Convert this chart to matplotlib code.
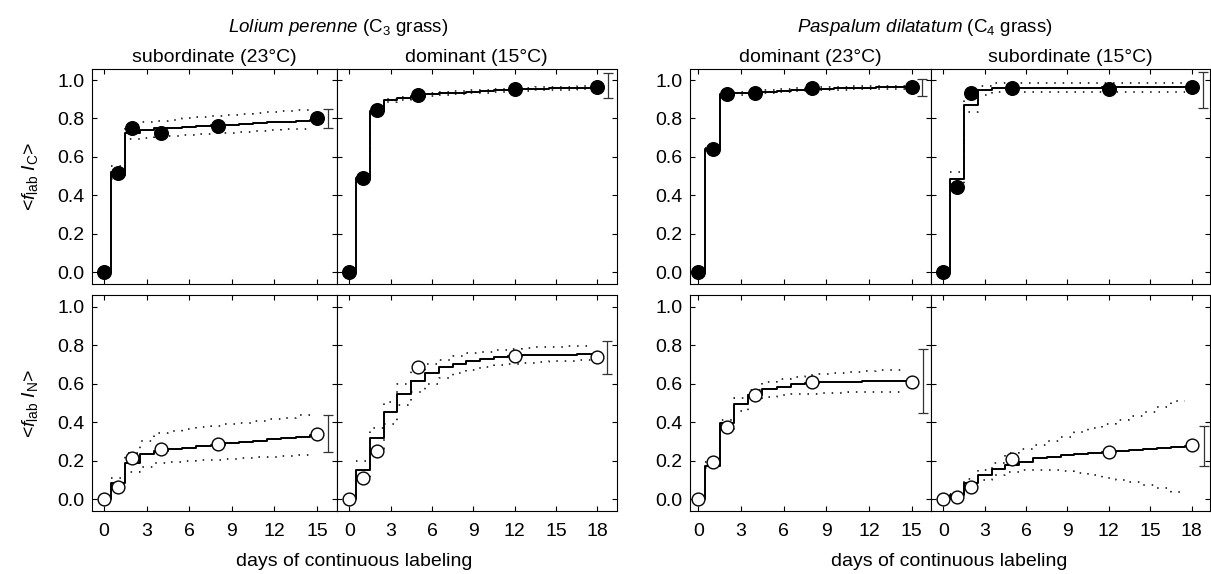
import numpy as np
import matplotlib
matplotlib.use("Agg")
import matplotlib.pyplot as plt

plt.rcParams.update({
    "font.family": ["Liberation Sans", "DejaVu Sans"], "font.size": 14,
    "mathtext.fontset": "custom", "mathtext.rm": "Liberation Sans",
    "mathtext.it": "Liberation Sans:italic", "mathtext.bf": "Liberation Sans:bold",
    "axes.linewidth": 0.8,
})

# ---- data ----
# measured days: 15-day experiments (23°C subordinate Lolium / dominant Paspalum) and 18-day ones
DAYS_15 = [0, 1, 2, 4, 8, 15]
DAYS_18 = [0, 1, 2, 5, 12, 18]

# Lolium perenne, subordinate (23°C)
lp_sub_C_obs = [0.0, 0.515, 0.75, 0.725, 0.762, 0.80]
lp_sub_C_fit = [0.0, 0.52, 0.725, 0.74, 0.748, 0.752, 0.756, 0.760, 0.764, 0.768, 0.772, 0.776, 0.780, 0.784, 0.788, 0.794]
lp_sub_C_hi = [0.555, 0.765, 0.782, 0.788, 0.794, 0.800, 0.806, 0.812, 0.818, 0.823, 0.828, 0.833, 0.838, 0.843]
lp_sub_C_lo = [0.485, 0.692, 0.700, 0.705, 0.710, 0.714, 0.718, 0.722, 0.727, 0.731, 0.735, 0.739, 0.743, 0.747]
lp_sub_N_obs = [0.0, 0.062, 0.213, 0.26, 0.289, 0.341]
lp_sub_N_fit = [0.0, 0.087, 0.19, 0.235, 0.253, 0.26, 0.268, 0.275, 0.282, 0.29, 0.297, 0.304, 0.312, 0.319, 0.326, 0.334]
lp_sub_N_hi = [0.109, 0.24, 0.303, 0.345, 0.355, 0.365, 0.373, 0.382, 0.39, 0.398, 0.407, 0.415, 0.424, 0.44]
lp_sub_N_lo = [0.07, 0.144, 0.17, 0.19, 0.194, 0.198, 0.202, 0.206, 0.21, 0.214, 0.218, 0.222, 0.226, 0.23]

# Lolium perenne, dominant (15°C)
lp_dom_C_obs = [0.0, 0.49, 0.845, 0.922, 0.955, 0.965]
lp_dom_C_fit = [0.0, 0.49, 0.84, 0.895, 0.905, 0.918, 0.925, 0.93, 0.934, 0.938, 0.942, 0.946, 0.950, 0.952, 0.954, 0.956, 0.958, 0.960, 0.962]
lp_dom_C_hi = [0.498, 0.848, 0.903, 0.913, 0.926, 0.933, 0.938, 0.942, 0.946, 0.950, 0.954, 0.958, 0.960, 0.962, 0.964, 0.966, 0.968]
lp_dom_C_lo = [0.482, 0.832, 0.887, 0.897, 0.910, 0.917, 0.922, 0.926, 0.930, 0.934, 0.938, 0.942, 0.944, 0.946, 0.948, 0.950, 0.952]
lp_dom_N_obs = [0.0, 0.11, 0.253, 0.689, 0.745, 0.739]
lp_dom_N_fit = [0.0, 0.15, 0.317, 0.452, 0.545, 0.615, 0.655, 0.685, 0.705, 0.72, 0.73, 0.738, 0.745, 0.747, 0.749, 0.75, 0.751, 0.752, 0.752]
lp_dom_N_hi = [0.2, 0.37, 0.507, 0.6, 0.665, 0.70, 0.725, 0.745, 0.757, 0.767, 0.775, 0.782, 0.787, 0.790, 0.792, 0.794, 0.796]
lp_dom_N_lo = [0.1, 0.26, 0.39, 0.49, 0.555, 0.60, 0.63, 0.655, 0.67, 0.685, 0.695, 0.705, 0.71, 0.714, 0.717, 0.72, 0.723]

# Paspalum dilatatum, dominant (23°C)
pd_dom_C_obs = [0.0, 0.641, 0.928, 0.932, 0.958, 0.963]
pd_dom_C_fit = [0.0, 0.64, 0.925, 0.93, 0.935, 0.94, 0.945, 0.95, 0.953, 0.955, 0.957, 0.959, 0.961, 0.962, 0.963, 0.964]
pd_dom_C_hi = [0.648, 0.933, 0.938, 0.943, 0.948, 0.953, 0.958, 0.961, 0.963, 0.965, 0.967, 0.969, 0.970, 0.971]
pd_dom_C_lo = [0.632, 0.917, 0.922, 0.927, 0.932, 0.937, 0.942, 0.945, 0.947, 0.949, 0.951, 0.953, 0.954, 0.955]
pd_dom_N_obs = [0.0, 0.196, 0.374, 0.542, 0.608, 0.611]
pd_dom_N_fit = [0.0, 0.175, 0.395, 0.495, 0.542, 0.573, 0.585, 0.597, 0.605, 0.607, 0.609, 0.61, 0.612, 0.613, 0.614, 0.615]
pd_dom_N_hi = [0.195, 0.41, 0.525, 0.568, 0.61, 0.625, 0.637, 0.646, 0.652, 0.657, 0.662, 0.666, 0.669, 0.672]
pd_dom_N_lo = [0.161, 0.364, 0.459, 0.516, 0.533, 0.54, 0.545, 0.549, 0.552, 0.554, 0.556, 0.557, 0.558, 0.559]

# Paspalum dilatatum, subordinate (15°C)
pd_sub_C_obs = [0.0, 0.445, 0.93, 0.96, 0.955, 0.965]
pd_sub_C_fit = [0.0, 0.485, 0.871, 0.946, 0.958, 0.96, 0.96, 0.96, 0.961, 0.961, 0.961, 0.961, 0.962, 0.962, 0.962, 0.962, 0.962, 0.962, 0.962]
pd_sub_C_hi = [0.52, 0.90, 0.97, 0.984, 0.984, 0.984, 0.984, 0.984, 0.984, 0.984, 0.984, 0.984, 0.984, 0.984, 0.984, 0.984, 0.984]
pd_sub_C_lo = [0.45, 0.836, 0.923, 0.94, 0.94, 0.94, 0.94, 0.94, 0.94, 0.94, 0.94, 0.94, 0.94, 0.94, 0.94, 0.94, 0.94]
pd_sub_N_obs = [0.0, 0.012, 0.062, 0.211, 0.246, 0.28]
pd_sub_N_fit = [0.0, 0.02, 0.083, 0.126, 0.158, 0.178, 0.196, 0.213, 0.222, 0.229, 0.235, 0.241, 0.246, 0.251, 0.257, 0.263, 0.268, 0.273, 0.278]
pd_sub_N_hi = [0.03, 0.106, 0.152, 0.19, 0.24, 0.262, 0.283, 0.304, 0.326, 0.347, 0.368, 0.39, 0.41, 0.432, 0.454, 0.478, 0.512]
pd_sub_N_lo = [0.01, 0.07, 0.10, 0.126, 0.144, 0.15, 0.152, 0.15, 0.145, 0.135, 0.124, 0.113, 0.10, 0.088, 0.072, 0.057, 0.04]

# error bars drawn to the right of each panel: (day, centre, half-width)
err_lp_sub_C = (15.77, 0.80, 0.047)
err_lp_dom_C = (18.77, 0.97, 0.065)
err_pd_dom_C = (15.74, 0.962, 0.044)
err_pd_sub_C = (18.8, 0.947, 0.093)
err_lp_sub_N = (15.77, 0.343, 0.095)
err_lp_dom_N = (18.73, 0.735, 0.087)
err_pd_dom_N = (15.8, 0.613, 0.166)
err_pd_sub_N = (18.87, 0.277, 0.104)

# ---- layout, in pixels of the 1211 x 574 figure ----
W, H = 1211, 574
fig = plt.figure(figsize=(W / 100, H / 100), dpi=100)

COLS = [(91.7, 336.7, (-0.87, 16.39)), (336.7, 616.7, (-0.91, 19.4)),
        (689.5, 931.0, (-0.62, 16.35)), (931.0, 1209.5, (-0.89, 19.3))]
ROWS = [(68.5, 283.8), (295.1, 510.9)]


def px_axes(l, r, t, b):
    return fig.add_axes([l / W, 1 - b / H, (r - l) / W, (b - t) / H])


def step_xy(vals, k0, hi):
    k = k0 + np.arange(len(vals))
    x = np.clip(np.column_stack([k - 0.5, k + 0.5]).ravel(), 0, hi)
    return x, np.repeat(vals, 2)


panels = [
    # (row, col, days, obs, fit, hi, lo, err, filled)
    (0, 0, DAYS_15, lp_sub_C_obs, lp_sub_C_fit, lp_sub_C_hi, lp_sub_C_lo, err_lp_sub_C, True),
    (0, 1, DAYS_18, lp_dom_C_obs, lp_dom_C_fit, lp_dom_C_hi, lp_dom_C_lo, err_lp_dom_C, True),
    (0, 2, DAYS_15, pd_dom_C_obs, pd_dom_C_fit, pd_dom_C_hi, pd_dom_C_lo, err_pd_dom_C, True),
    (0, 3, DAYS_18, pd_sub_C_obs, pd_sub_C_fit, pd_sub_C_hi, pd_sub_C_lo, err_pd_sub_C, True),
    (1, 0, DAYS_15, lp_sub_N_obs, lp_sub_N_fit, lp_sub_N_hi, lp_sub_N_lo, err_lp_sub_N, False),
    (1, 1, DAYS_18, lp_dom_N_obs, lp_dom_N_fit, lp_dom_N_hi, lp_dom_N_lo, err_lp_dom_N, False),
    (1, 2, DAYS_15, pd_dom_N_obs, pd_dom_N_fit, pd_dom_N_hi, pd_dom_N_lo, err_pd_dom_N, False),
    (1, 3, DAYS_18, pd_sub_N_obs, pd_sub_N_fit, pd_sub_N_hi, pd_sub_N_lo, err_pd_sub_N, False),
]

for row, col, days, obs, fit, hi, lo, err, filled in panels:
    l, r, xlim = COLS[col]
    t, b = ROWS[row]
    ax = px_axes(l, r, t, b)
    n = days[-1]
    for band in (hi, lo):
        ax.plot(*step_xy(band, 1, n), color="black", lw=1.1, ls=(0, (1, 4.5)), zorder=2)
    ax.plot(*step_xy(fit, 0, n), color="black", lw=1.4, zorder=3)
    ax.plot(days, obs, "o", ms=9.8 if filled else 9.2, mfc="black" if filled else "white",
            mec="black", mew=1.0, zorder=4, clip_on=False)
    ax.errorbar(err[0], err[1], yerr=err[2], fmt="none", ecolor="#333333",
                elinewidth=0.9, capsize=3.5, capthick=0.9, zorder=3)
    ax.set_xlim(*xlim)
    ax.set_ylim(-0.06, 1.06)
    ax.set_xticks(np.arange(0, n + 1, 3))
    ax.set_yticks(np.arange(0, 1.01, 0.2))
    ax.tick_params(direction="in", top=True, right=True, length=3.6, width=0.8, labelsize=14)
    ax.tick_params(axis="x", pad=9)
    ax.tick_params(axis="y", pad=5)
    if col in (0, 2):
        ax.set_yticklabels([f"{v:.1f}" for v in np.arange(0, 1.01, 0.2)])
    else:
        ax.set_yticklabels([])
    if row == 0:
        ax.set_xticklabels([])

# column headings
sub_titles = ["subordinate (23°C)", "dominant (15°C)", "dominant (23°C)", "subordinate (15°C)"]
for (l, r, _), s in zip(COLS, sub_titles):
    fig.text((l + r) / 2 / W, 1 - 58 / H, s, ha="center", va="center", fontsize=14)

fig.text(338 / W, 1 - 28 / H, r"$\it{Lolium\ perenne}$ (C$_3$ grass)", ha="center", va="center", fontsize=13.5)
fig.text(925 / W, 1 - 28 / H, r"$\it{Paspalum\ dilatatum}$ (C$_4$ grass)", ha="center", va="center", fontsize=13.5)

for cx in ((91.7 + 616.7) / 2, (689.5 + 1209.5) / 2):
    fig.text(cx / W, 1 - 561 / H, "days of continuous labeling", ha="center", va="center", fontsize=14)

fig.text(30 / W, 1 - 176 / H, r"<$f_{\rm lab}$ $I_{\rm C}$>", rotation=90, ha="center", va="center", fontsize=14)
fig.text(30 / W, 1 - 403 / H, r"<$f_{\rm lab}$ $I_{\rm N}$>", rotation=90, ha="center", va="center", fontsize=14)

fig.savefig("out.png", dpi=100)
